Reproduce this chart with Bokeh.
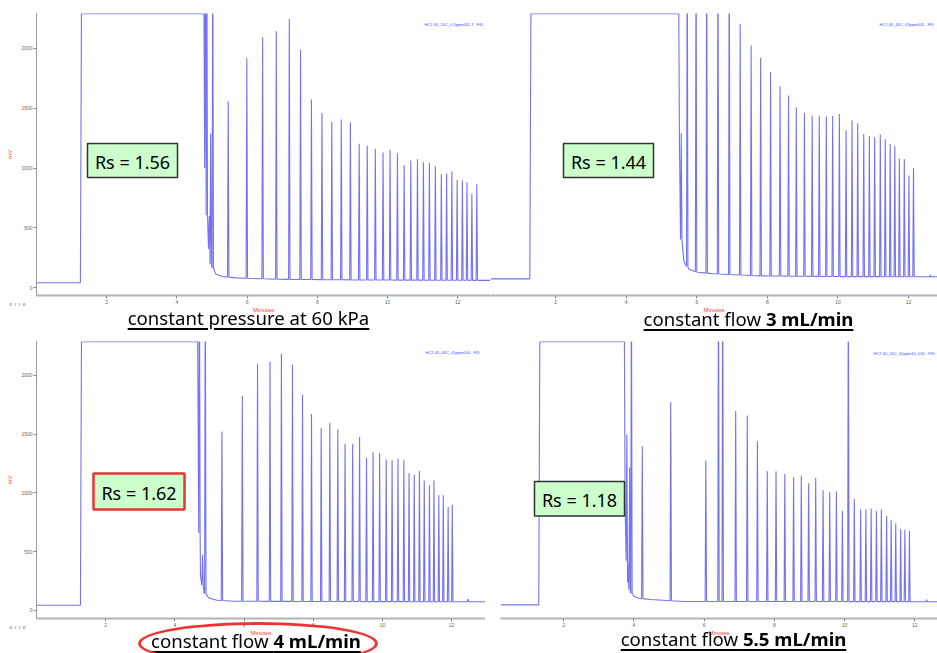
import numpy as np
from bokeh.plotting import figure
from bokeh.layouts import column, row
from bokeh.models import Label, BoxAnnotation, FixedTicker, Div
from bokeh.embed import file_html
from bokeh.resources import INLINE

# ---------------------------------------------------------------------------
# Chromatogram data: times in minutes, detector signal in mV
# ---------------------------------------------------------------------------

# constant pressure at 60 kPa
p60_pre_level = 42
p60_injection = 1.25
p60_tail_t = [4.77, 4.80, 4.86, 4.96, 5.10, 5.29, 5.67, 6.81, 9.0, 12.93]
p60_tail_v = [2289, 1100, 506, 202, 116, 94, 83, 72, 66, 62]
p60_peak_t = [4.81, 4.85, 4.92, 4.96, 5.02,
              5.46, 5.99, 6.44, 6.83, 7.20, 7.52, 7.83, 8.13, 8.41, 8.68,
              8.94, 9.19, 9.42, 9.65, 9.87, 10.07, 10.28, 10.47, 10.66, 10.85,
              11.02, 11.19, 11.36, 11.53, 11.68, 11.83, 11.98, 12.13, 12.26,
              12.40, 12.54]
p60_peak_h = [3000, 3000, 600, 1288, 3000,
              1558, 1917, 2092, 2142, 2245, 1987, 1572, 1460, 1385, 1405,
              1380, 1202, 1188, 1160, 1129, 1152, 1124, 1023, 1063, 1074,
              1049, 1043, 1015, 951, 954, 971, 901, 896, 881,
              785, 865]

# constant flow 3 mL/min
f3_pre_level = 75
f3_injection = 1.27
f3_tail_t = [5.49, 5.51, 5.54, 5.63, 5.77, 6.01, 6.48, 7.80, 10.0, 12.82]
f3_tail_v = [2289, 1200, 453, 228, 158, 130, 117, 100, 94, 92]
f3_peak_t = [5.56, 5.73,
             5.98, 6.28, 6.60, 6.92, 7.23, 7.54, 7.81, 8.09, 8.36, 8.60,
             8.82, 9.05, 9.27, 9.47, 9.67, 9.85, 10.04, 10.23, 10.40, 10.56,
             10.73, 10.89, 11.04, 11.20, 11.34, 11.48, 11.61, 11.74, 11.88,
             12.01, 12.14, 12.62]
f3_peak_h = [1290, 3000,
             3000, 3000, 3000, 3000, 2204, 2022, 1920, 1800, 1680, 1605,
             1508, 1461, 1436, 1436, 1430, 1436, 1452, 1313, 1397, 1374,
             1285, 1265, 1257, 1280, 1241, 1202, 1182, 1077, 1074,
             937, 998, 108]

# constant flow 4 mL/min
f4_pre_level = 43
f4_injection = 1.27
f4_tail_t = [4.66, 4.69, 4.74, 4.84, 4.98, 5.22, 5.70, 8.0, 12.98]
f4_tail_v = [2288, 900, 298, 156, 105, 85, 77, 75, 72]
f4_peak_t = [4.71, 4.80, 4.88,
             5.36, 5.95, 6.39, 6.75, 7.08, 7.40, 7.69, 7.95, 8.23, 8.48,
             8.71, 8.92, 9.14, 9.34, 9.54, 9.73, 9.92, 10.11, 10.28, 10.45,
             10.62, 10.77, 10.92, 11.07, 11.21, 11.36, 11.49, 11.63, 11.76,
             11.90, 12.02, 12.48]
f4_peak_h = [3000, 470, 3000,
             1523, 1824, 2099, 2119, 2184, 2091, 1836, 1671, 1552, 1597,
             1540, 1418, 1418, 1475, 1296, 1347, 1339, 1285, 1277, 1291,
             1277, 1169, 1155, 1186, 1106, 1064, 1106, 979, 979,
             879, 899, 95]

# constant flow 5.5 mL/min
f55_pre_level = 48
f55_injection = 1.29
f55_tail_t = [3.73, 3.75, 3.82, 3.90, 4.00, 4.14, 4.47, 4.95, 5.42, 8.0, 12.65]
f55_tail_v = [2320, 900, 241, 156, 122, 105, 94, 85, 77, 77, 75]
f55_peak_t = [3.80, 3.88, 3.93,
              4.24, 5.05, 6.05, 6.41, 6.53, 6.90, 7.23, 7.52, 7.80, 8.05,
              8.30, 8.55, 8.77, 8.98, 9.18, 9.39, 9.58, 9.77, 9.94, 10.11,
              10.28, 10.46, 10.61, 10.76, 10.91, 11.05, 11.20, 11.33, 11.46,
              11.60, 11.72, 11.85, 12.34]
f55_peak_h = [1518, 1234, 3000,
              1418, 1796, 1291, 3000, 3000, 1722, 1682, 1461, 1200, 1200,
              1177, 1149, 1163, 1098, 1143, 1036, 1021, 1027, 860, 3000,
              964, 871, 871, 880, 857, 871, 814, 780, 752,
              701, 695, 687, 92]

panel_titles = ["constant pressure at 60 kPa", "constant flow", "constant flow", "constant flow"]
panel_flows = [None, "3 mL/min", "4 mL/min", "5.5 mL/min"]
panel_rs = ["Rs = 1.56", "Rs = 1.44", "Rs = 1.62", "Rs = 1.18"]
panel_files = ["HC7-40_20C_0.5ppm001.7 - FID", "HC7-40_40C_05ppm003 - FID",
               "HC7-40_40C_05ppm004 - FID", "HC7-40_20C_05ppm10_005 - FID"]
x_ticks = [2, 4, 6, 8, 10, 12]
y_ticks = [0, 500, 1000, 1500, 2000]

TRACE = "#6464f2"
CAPTION_FONT = "Noto Sans"


def build_trace(t0, t1, pre, inj, top, tail_t, tail_v, peak_t, peak_h, w=0.02):
    """Polyline of a chromatogram: flat baseline, saturated solvent band,
    decaying solvent tail, then narrow triangular peaks on the baseline."""
    tail_t = np.asarray(tail_t, float)
    tail_v = np.asarray(tail_v, float)
    pts = []
    for t, v in zip(tail_t, tail_v):
        if all(abs(t - pt) > w for pt in peak_t):
            pts.append((t, v))
    for t, h in zip(peak_t, peak_h):
        base = float(np.interp(t, tail_t, tail_v))
        pts += [(t - w, base), (t, h), (t + w, base)]
    pts.sort(key=lambda p: p[0])
    xs = [t0, inj, inj + 0.03] + [p[0] for p in pts]
    ys = [pre, pre, top] + [p[1] for p in pts]
    if xs[-1] < t1:
        xs.append(t1)
        ys.append(ys[-1])
    return xs, ys


def make_panel(width, height, geom, yaxis):
    left, top, fh = geom["left"], geom["top"], geom["h"]
    p = figure(width=width, height=height, output_backend="svg", toolbar_location=None,
               x_range=geom["x"], y_range=geom["y"],
               y_axis_location="left" if yaxis else None,
               min_border_left=left - geom["page_x"], min_border_right=0,
               min_border_top=top - geom["page_y"],
               min_border_bottom=height - (top - geom["page_y"]) - fh)
    p.outline_line_color = None
    p.grid.visible = False
    p.background_fill_color = "white"
    p.border_fill_color = "white"
    xa = p.xaxis[0]
    xa.ticker = FixedTicker(ticks=x_ticks)
    xa.minor_tick_line_color = None
    xa.major_tick_in = 0
    xa.major_tick_out = 3
    xa.major_tick_line_color = "#888888"
    xa.axis_line_color = "#b4b4b4"
    xa.axis_line_width = 2
    xa.major_label_text_font_size = "5px"
    xa.major_label_text_color = "#666666"
    xa.major_label_standoff = 1
    xa.axis_label = "Minutes"
    xa.axis_label_text_color = "#ff3b3b"
    xa.axis_label_text_font_size = "6px"
    xa.axis_label_text_font_style = "normal"
    xa.axis_label_standoff = 0
    if yaxis:
        ya = p.yaxis[0]
        ya.ticker = FixedTicker(ticks=y_ticks)
        ya.minor_tick_line_color = None
        ya.major_tick_in = 0
        ya.major_tick_out = 3
        ya.major_tick_line_color = "#888888"
        ya.axis_line_color = "#999999"
        ya.axis_line_width = 1
        ya.major_label_text_font_size = "5px"
        ya.major_label_text_color = "#666666"
        ya.major_label_standoff = 1
        ya.axis_label = "mV"
        ya.axis_label_text_color = "#ff3b3b"
        ya.axis_label_text_font_size = "6px"
        ya.axis_label_text_font_style = "normal"
        ya.axis_label_standoff = 5
    return p


def to_data(geom, px, py):
    x0, x1 = geom["x"]
    y0, y1 = geom["y"]
    x = x0 + (px - geom["left"]) / geom["w"] * (x1 - x0)
    y = y1 - (py - geom["top"]) / geom["h"] * (y1 - y0)
    return x, y


def add_text(p, geom, px, py, text, size, color="black", align="left",
             baseline="alphabetic", font=CAPTION_FONT):
    x, y = to_data(geom, px, py)
    p.add_layout(Label(x=x, y=y, text=text, text_font_size=size, text_color=color,
                       text_align=align, text_baseline=baseline, text_font=font,
                       level="overlay"))


def add_rs(p, geom, box, text, border, lw):
    x0, y0, x1, y1 = box
    l, t = to_data(geom, x0, y0)
    r, b = to_data(geom, x1, y1)
    p.add_layout(BoxAnnotation(left=l, right=r, top=t, bottom=b, fill_color="#ccffcc",
                               fill_alpha=1, line_color=border, line_alpha=1,
                               line_width=lw, level="overlay"))
    add_text(p, geom, (x0 + x1) / 2, (y0 + y1) / 2 + 1, text, "18px",
             align="center", baseline="middle")


# page geometry of each plotting frame
G1 = dict(page_x=0, page_y=0, left=36, top=13, w=454, h=282, x=(0, 12.93), y=(-64, 2290))
G2 = dict(page_x=490, page_y=0, left=490, top=13, w=447, h=282, x=(0.156, 12.82), y=(-64, 2290))
G3 = dict(page_x=0, page_y=325, left=36, top=341, w=449, h=277, x=(0, 12.98), y=(-70, 2289))
G4 = dict(page_x=485, page_y=325, left=500, top=337, w=437, h=281, x=(0.2, 12.65), y=(-70, 2321))

p1 = make_panel(490, 325, G1, True)
p2 = make_panel(447, 325, G2, False)
p3 = make_panel(485, 328, G3, True)
p4 = make_panel(452, 328, G4, False)

runs = [
    (p1, G1, p60_pre_level, p60_injection, p60_tail_t, p60_tail_v, p60_peak_t, p60_peak_h),
    (p2, G2, f3_pre_level, f3_injection, f3_tail_t, f3_tail_v, f3_peak_t, f3_peak_h),
    (p3, G3, f4_pre_level, f4_injection, f4_tail_t, f4_tail_v, f4_peak_t, f4_peak_h),
    (p4, G4, f55_pre_level, f55_injection, f55_tail_t, f55_tail_v, f55_peak_t, f55_peak_h),
]
for p, g, pre, inj, tt, tv, pt, ph in runs:
    xs, ys = build_trace(g["x"][0], g["x"][1], pre, inj, tv[0], tt, tv, pt, ph)
    p.line(xs, ys, line_color=TRACE, line_width=1.1, line_alpha=0.9)

# file name tags
TAG = dict(size="4px", color="#4a4aff", font="Liberation Sans")
add_text(p1, G1, 424, 24, panel_files[0], **TAG)
add_text(p2, G2, 879, 24, panel_files[1], **TAG)
add_text(p3, G3, 425, 352, panel_files[2], **TAG)
add_text(p4, G4, 873, 349, panel_files[3], **TAG)

# resolution boxes
add_rs(p1, G1, (87, 143, 177, 177), panel_rs[0], "#333333", 1.5)
add_rs(p2, G2, (563, 143, 653, 177), panel_rs[1], "#333333", 1.5)
add_rs(p3, G3, (93, 473, 184, 509), panel_rs[2], "#ee3333", 2.5)
add_rs(p4, G4, (534, 479, 624, 514), panel_rs[3], "#333333", 1.5)

# captions under the panels (page positions: centre x, baseline y)
caption_pos = [(248.5, 325), (748.5, 326.5), (256, 648), (733.5, 646.5)]
CAP_SIZE = 18.6
parts = []
for (cx, by), plain, bold in zip(caption_pos, panel_titles, panel_flows):
    inner = plain if bold is None else f"{plain} <b>{bold}</b>"
    parts.append(
        f'<div style="position:absolute;left:{cx - 200}px;top:{by - 0.888 * CAP_SIZE:.1f}px;'
        f'width:400px;text-align:center;white-space:nowrap;font-size:{CAP_SIZE}px;'
        f'line-height:{CAP_SIZE}px;text-decoration:underline;text-decoration-thickness:2px;'
        f'text-underline-offset:3px;color:black;">{inner}</div>')
# highlight ring around the 4 mL/min caption
parts.append('<div style="position:absolute;left:138px;top:622px;width:240px;height:43px;'
             'box-sizing:border-box;border:3px solid #ee3333;border-radius:50%;"></div>')
# navigation arrows under the left axes
for top_y in (301, 624):
    parts.append(f'<div style="position:absolute;left:9px;top:{top_y}px;font-size:6.5px;'
                 f'line-height:7px;color:#8a8a8a;font-family:\'Liberation Sans\';white-space:pre;">'
                 f'\u00ab \u2039 \u203a \u00bb</div>')

overlay = Div(text='<div style="position:fixed;left:0;top:0;width:937px;height:653px;'
                   f'pointer-events:none;font-family:\'{CAPTION_FONT}\';">' + "".join(parts) + "</div>",
              width=0, height=0)

layout = column(row(p1, p2, spacing=0), row(p3, p4, overlay, spacing=0), spacing=0)
open("out.html", "w").write(file_html(layout, INLINE))
